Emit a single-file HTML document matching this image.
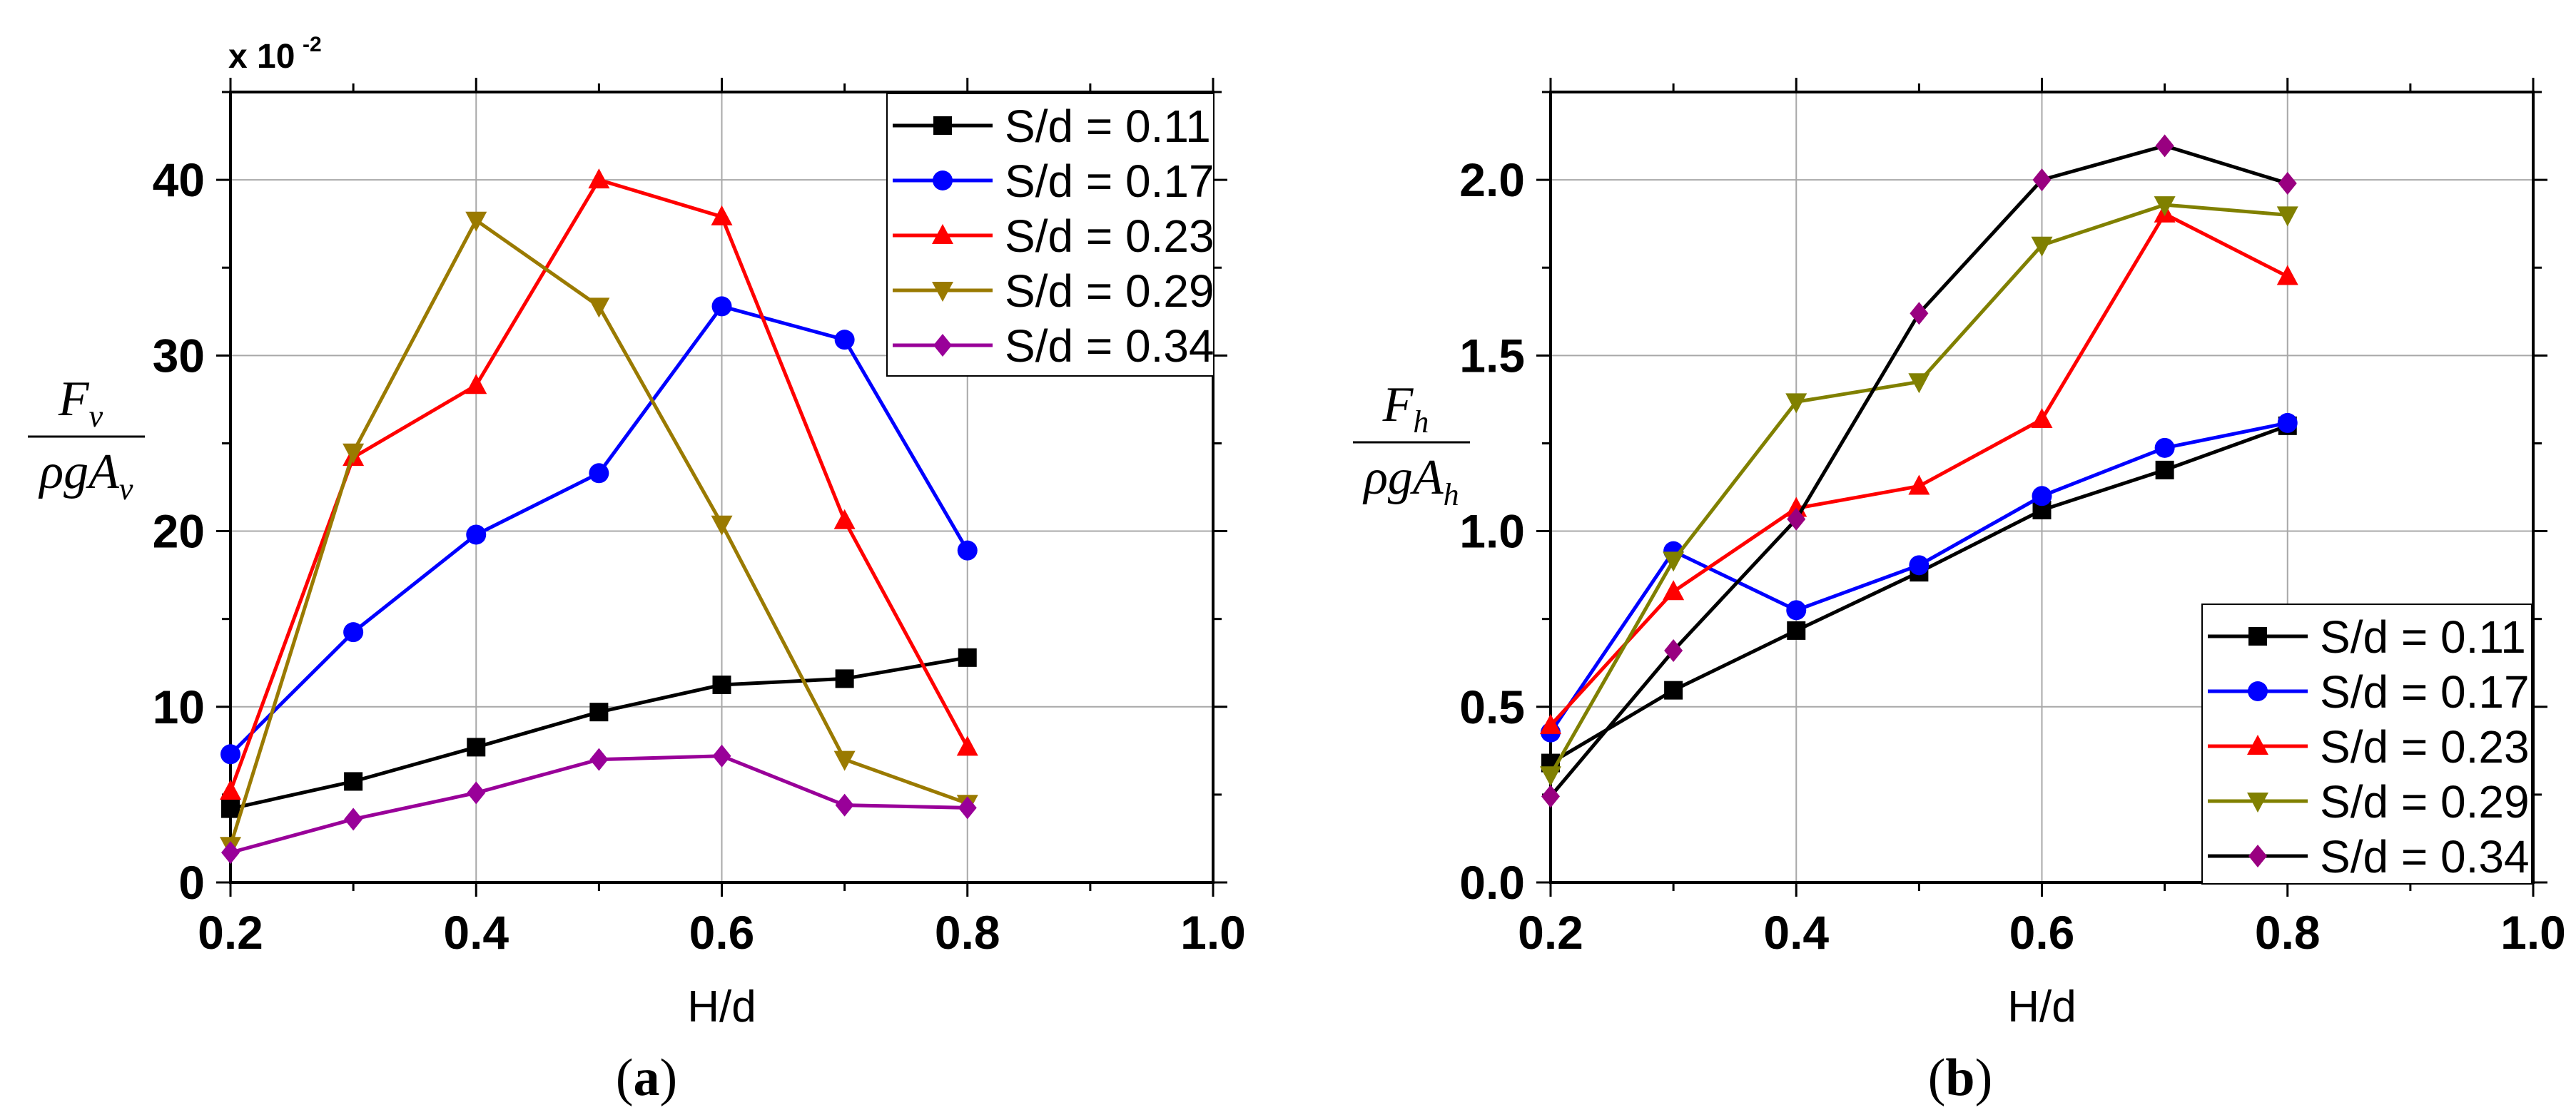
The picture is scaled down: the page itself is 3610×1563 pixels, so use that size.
<!DOCTYPE html>
<html><head><meta charset="utf-8"><style>
html,body{margin:0;padding:0;background:#fff;}
svg{display:block;}
text{font-family:"Liberation Sans",Arial,sans-serif;}
</style></head><body>
<svg id="s" width="3610" height="1563" viewBox="0 0 3610 1563" xmlns="http://www.w3.org/2000/svg"></svg>
<script>
const xCats = [0.2, 0.3, 0.4, 0.5, 0.6, 0.7, 0.8];
const seriesNames = ["S/d = 0.11", "S/d = 0.17", "S/d = 0.23", "S/d = 0.29", "S/d = 0.34"];
const aBlack = [4.2, 5.75, 7.7, 9.7, 11.25, 11.6, 12.8];
const aBlue = [7.3, 14.25, 19.8, 23.3, 32.8, 30.9, 18.9];
const aRed = [5.2, 24.2, 28.3, 40.0, 37.9, 20.6, 7.7];
const aOlive = [2.1, 24.5, 37.7, 32.8, 20.4, 7.0, 4.5];
const aPurple = [1.7, 3.6, 5.1, 7.0, 7.2, 4.4, 4.25];
const bBlack = [0.34, 0.547, 0.717, 0.883, 1.06, 1.174, 1.30];
const bBlue = [0.427, 0.943, 0.775, 0.903, 1.10, 1.237, 1.308];
const bRed = [0.447, 0.828, 1.065, 1.128, 1.318, 1.903, 1.725];
const bOlive = [0.306, 0.917, 1.368, 1.425, 1.814, 1.929, 1.90];
const bPurple = [0.245, 0.66, 1.034, 1.62, 2.0, 2.097, 1.99];
const xTicks = ["0.2", "0.4", "0.6", "0.8", "1.0"];
const aYTicks = ["0", "10", "20", "30", "40"];
const bYTicks = ["0.0", "0.5", "1.0", "1.5", "2.0"];

const NS = "http://www.w3.org/2000/svg";
const svg = document.getElementById('s');
function el(tag, attrs, parent, txt) {
  const e = document.createElementNS(NS, tag);
  for (const k in attrs) e.setAttribute(k, attrs[k]);
  if (txt !== undefined) e.textContent = txt;
  (parent || svg).appendChild(e);
  return e;
}
function marker(g, type, cx, cy, color) {
  let m;
  if (type === 'sq') m = el('rect', {x: cx - 13, y: cy - 13, width: 26, height: 26, fill: color}, g);
  else if (type === 'ci') m = el('circle', {cx: cx, cy: cy, r: 14, fill: color}, g);
  else if (type === 'up') m = el('polygon', {points: `${cx},${cy - 16} ${cx + 15},${cy + 12} ${cx - 15},${cy + 12}`, fill: color}, g);
  else if (type === 'dn') m = el('polygon', {points: `${cx},${cy + 16} ${cx + 15},${cy - 12} ${cx - 15},${cy - 12}`, fill: color}, g);
  else m = el('polygon', {points: `${cx},${cy - 16} ${cx + 13},${cy} ${cx},${cy + 16} ${cx - 13},${cy}`, fill: color}, g);
  
  
  return m;
}

function panel(cfg) {
  const g = el('g', {});
  
  
  const L = cfg.left, R = cfg.right, T = 129, B = 1237;
  const X = v => L + (v - 0.2) / 0.8 * (R - L);
  const Y = v => B - v / cfg.ymax * (B - T);
  for (let i = 1; i < 4; i++) {
    const v = 0.2 + i * 0.2;
    const gl = el('line', {x1: X(v), x2: X(v), y1: T, y2: B, stroke: '#a8a8a8', 'stroke-width': 2}, g);
    
    
  }
  for (let i = 1; i < 5; i++) {
    const v = i * cfg.ystep;
    const gl = el('line', {x1: L, x2: R, y1: Y(v), y2: Y(v), stroke: '#a8a8a8', 'stroke-width': 2}, g);
    
    
  }
  const fr = el('rect', {x: L, y: T, width: R - L, height: B - T, fill: 'none', stroke: '#000', 'stroke-width': 4}, g);
  
  
  for (let i = 0; i <= 8; i++) {
    const v = 0.2 + i * 0.1, len = i % 2 === 0 ? 20 : 12;
    el('line', {x1: X(v), x2: X(v), y1: B, y2: B + len, stroke: '#000', 'stroke-width': 3}, g);
    el('line', {x1: X(v), x2: X(v), y1: T, y2: T - len, stroke: '#000', 'stroke-width': 3}, g);
  }
  for (let i = 0; i * cfg.ystep / 2 <= cfg.ymax + 1e-9; i++) {
    const v = i * cfg.ystep / 2, len = i % 2 === 0 ? 20 : 12;
    el('line', {x1: L, x2: L - len, y1: Y(v), y2: Y(v), stroke: '#000', 'stroke-width': 3}, g);
    el('line', {x1: R, x2: R + len, y1: Y(v), y2: Y(v), stroke: '#000', 'stroke-width': 3}, g);
  }
  xTicks.forEach((t, i) => {
    const tx = el('text', {x: X(0.2 + i * 0.2), y: 1330, 'text-anchor': 'middle', 'font-size': 66, 'font-weight': 'bold'}, g, t);
    
    
  });
  cfg.yTicks.forEach((t, i) => {
    const tx = el('text', {x: L - 36, y: Y(i * cfg.ystep) + 23, 'text-anchor': 'end', 'font-size': 66, 'font-weight': 'bold'}, g, t);
    
    
  });
  const xt = el('text', {x: X(0.6), y: 1432, 'text-anchor': 'middle', 'font-size': 62}, g, 'H/d');
  
  
  const types = ['sq', 'ci', 'up', 'dn', 'di'];
  cfg.series.forEach((vals, si) => {
    const sg = el('g', {}, g);
    
    
    const pts = vals.map((v, i) => X(xCats[i]) + ',' + Y(v)).join(' ');
    const pl = el('polyline', {points: pts, fill: 'none', stroke: cfg.lineColors[si], 'stroke-width': 5}, sg);
    
    
    vals.forEach((v, i) => marker(sg, types[si], X(xCats[i]), Y(v), cfg.markColors[si]));
  });
  const lg = el('g', {}, g);
  
  
  el('rect', {x: cfg.lx, y: cfg.ly, width: cfg.lw, height: cfg.lh, fill: '#fff', stroke: '#000', 'stroke-width': 2}, lg);
  seriesNames.forEach((n, i) => {
    const cy = cfg.ly + 45 + i * 77;
    const eg = el('g', {}, lg);
    
    
    el('line', {x1: cfg.lx + 8, x2: cfg.lx + 148, y1: cy, y2: cy, stroke: cfg.lineColors[i], 'stroke-width': 5}, eg);
    marker(eg, types[i], cfg.lx + 78, cy, cfg.markColors[i]);
    el('text', {x: cfg.lx + 165, y: cy + 23, 'font-size': 64}, eg, n);
  });
  return {X, Y, g};
}

const colsA = ['#000000', '#0000ff', '#ff0000', '#9a7a00', '#990099'];
panel({name: 'panel-a', left: 323, right: 1700, ymax: 45, ystep: 10, yTicks: aYTicks,
  series: [aBlack, aBlue, aRed, aOlive, aPurple], lineColors: colsA, markColors: colsA,
  lx: 1243, ly: 131, lw: 458, lh: 396});
const colsB = ['#000000', '#0000ff', '#ff0000', '#808000', '#000000'];
const mkB = ['#000000', '#0000ff', '#ff0000', '#808000', '#990080'];
panel({name: 'panel-b', left: 2173, right: 3550, ymax: 2.25, ystep: 0.5, yTicks: bYTicks,
  series: [bBlack, bBlue, bRed, bOlive, bPurple], lineColors: colsB, markColors: mkB,
  lx: 3086, ly: 847, lw: 462, lh: 392});

let t = el('text', {x: 320, y: 95, 'font-size': 48, 'font-weight': 'bold'}, svg, 'x 10');


el('text', {x: 424, y: 72, 'font-size': 30, 'font-weight': 'bold'}, svg, '-2');

function ylab(cx, top, sub, name) {
  const g = el('g', {});
  
  
  const f = 'font-family:"Liberation Serif",serif;font-style:italic';
  const a = el('text', {x: cx - 8, y: top + 70, 'text-anchor': 'middle', 'font-size': 70, style: f}, g, 'F');
  el('tspan', {'font-size': 44, dy: 16}, a, sub);
  el('line', {x1: cx - 82, x2: cx + 82, y1: top + 100, y2: top + 100, stroke: '#000', 'stroke-width': 3}, g);
  const b = el('text', {x: cx, y: top + 172, 'text-anchor': 'middle', 'font-size': 70, style: f}, g, 'ρgA');
  el('tspan', {'font-size': 44, dy: 16}, b, sub);
}
ylab(121, 512, 'v', 'y-axis-title-a');
ylab(1978, 520, 'h', 'y-axis-title-b');

t = el('text', {x: 906, y: 1535, 'text-anchor': 'middle', 'font-size': 74, style: 'font-family:"Liberation Serif",serif'}, svg);
el('tspan', {}, t, '(');
el('tspan', {'font-weight': 'bold'}, t, 'a');
el('tspan', {}, t, ')');


t = el('text', {x: 2747, y: 1535, 'text-anchor': 'middle', 'font-size': 74, style: 'font-family:"Liberation Serif",serif'}, svg);
el('tspan', {}, t, '(');
el('tspan', {'font-weight': 'bold'}, t, 'b');
el('tspan', {}, t, ')');


</script>
</body></html>
